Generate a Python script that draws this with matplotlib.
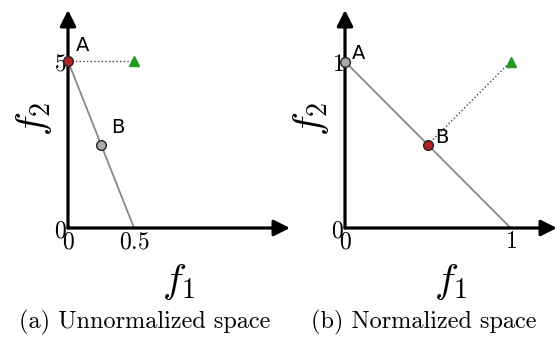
import matplotlib
matplotlib.use("Agg")
import matplotlib.pyplot as plt

plt.rcParams['mathtext.fontset'] = 'cm'

# objective-space points for the two panels
front_a = [[0, 0.5], [5, 0]]        # Pareto front, unnormalized (f1 list, f2 list)
pt_a_left = (0, 5)
pt_b_left = (0.25, 2.5)
ideal_left = (0.5, 5)
xticks_left = [0, 0.5]
xticklabels_left = ['$0$', '$0.5$']
yticks_left = [0, 5]
yticklabels_left = ['$0$', '$5$']

front_b = [[0, 1], [1, 0]]          # Pareto front, normalized
pt_a_right = (0, 1)
pt_b_right = (0.5, 0.5)
ideal_right = (1, 1)
xticks_right = [0, 1]
xticklabels_right = ['$0$', '$1$']
yticks_right = [0, 1]
yticklabels_right = ['$0$', '$1$']

captions = ['(a) Unnormalized space', '(b) Normalized space']

RED = '#b22222'
GREY = '#aaaaaa'
GREEN = '#229922'

W, H = 560, 339
fig = plt.figure(figsize=(W / 100, H / 100), dpi=100)


def make_axes(x0, x1, y_top, y_bot):
    return fig.add_axes([x0 / W, 1 - y_bot / H, (x1 - x0) / W, (y_bot - y_top) / H])


def setup(ax, xmax, ymax, xt, xtl, yt, ytl):
    ax.set_xlim(0, xmax)
    ax.set_ylim(0, ymax)
    for s in ax.spines.values():
        s.set_visible(False)
    ax.set_xticks(xt)
    ax.set_xticklabels(xtl, fontsize=17)
    ax.set_yticks(yt)
    ax.set_yticklabels(ytl, fontsize=17)
    ax.tick_params(length=0, pad=1)
    arrow = dict(arrowstyle='-|>,head_length=0.8,head_width=0.4', lw=2.3, color='k',
                 mutation_scale=12, shrinkA=0, shrinkB=0)
    ax.annotate('', xy=(xmax, 0), xytext=(0, 0), arrowprops=arrow, annotation_clip=False)
    ax.annotate('', xy=(0, ymax), xytext=(0, 0), arrowprops=arrow, annotation_clip=False)
    ax.set_xlabel('$f_1$', fontsize=29, labelpad=6)
    ax.set_ylabel('$f_2$', fontsize=29, labelpad=0)


def point(ax, p, color):
    ax.plot(*p, 'o', ms=7, mfc=color, mec='#222222', mew=1, zorder=5, clip_on=False)


# left panel
ax1 = make_axes(68, 290, 10, 228)
setup(ax1, 1.68, 6.53, xticks_left, xticklabels_left, yticks_left, yticklabels_left)
ax1.plot(front_a[0], front_a[1], color='#888888', lw=1.3, zorder=2)
ax1.plot([pt_a_left[0], ideal_left[0]], [pt_a_left[1], ideal_left[1]], ':', color='#444444', lw=1, zorder=1)
ax1.plot(*ideal_left, '^', ms=7, color=GREEN, zorder=5, clip_on=False)
point(ax1, pt_a_left, RED)
point(ax1, pt_b_left, GREY)
ax1.annotate('A', pt_a_left, xytext=(6, 7), textcoords='offset points', fontsize=14)
ax1.annotate('B', pt_b_left, xytext=(7, 8), textcoords='offset points', fontsize=14)

# right panel
ax2 = make_axes(345, 557, 10, 228)
setup(ax2, 1.28, 1.31, xticks_right, xticklabels_right, yticks_right, yticklabels_right)
ax2.plot(front_b[0], front_b[1], color='#888888', lw=1.3, zorder=2)
ax2.plot([pt_b_right[0], ideal_right[0]], [pt_b_right[1], ideal_right[1]], ':', color='#444444', lw=1, zorder=1)
ax2.plot(*ideal_right, '^', ms=7, color=GREEN, zorder=5, clip_on=False)
point(ax2, pt_a_right, GREY)
point(ax2, pt_b_right, RED)
ax2.annotate('A', pt_a_right, xytext=(5, 2), textcoords='offset points', fontsize=14)
ax2.annotate('B', pt_b_right, xytext=(5, 1), textcoords='offset points', fontsize=14)

fig.text(145 / W, 1 - 322 / H, captions[0], ha='center', va='center', fontsize=17.5, family='cmr10')
fig.text(424 / W, 1 - 322 / H, captions[1], ha='center', va='center', fontsize=17.5, family='cmr10')

fig.savefig('out.png', dpi=100)
